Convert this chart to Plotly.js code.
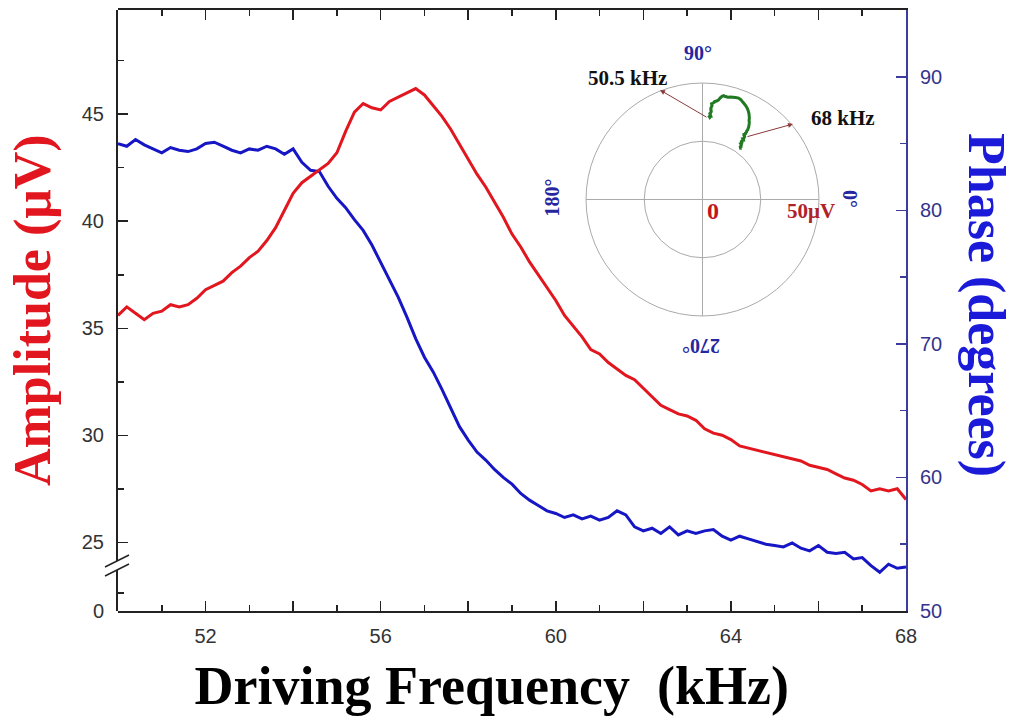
<!DOCTYPE html>
<html><head><meta charset="utf-8">
<script src="https://cdn.plot.ly/plotly-3.0.1.min.js"></script>
<style>html,body{margin:0;padding:0;background:#fff}#chart{width:1016px;height:721px}</style>
</head><body><div id="chart"></div><script>
// Driving frequency (kHz)
const frequency = [
 50.0,50.2,50.4,50.6,50.8,51.0,51.2,51.4,51.6,51.8,
 52.0,52.2,52.4,52.6,52.8,53.0,53.2,53.4,53.6,53.8,
 54.0,54.2,54.4,54.6,54.8,55.0,55.2,55.4,55.6,55.8,
 56.0,56.2,56.4,56.6,56.8,57.0,57.2,57.4,57.6,57.8,
 58.0,58.2,58.4,58.6,58.8,59.0,59.2,59.4,59.6,59.8,
 60.0,60.2,60.4,60.6,60.8,61.0,61.2,61.4,61.6,61.8,
 62.0,62.2,62.4,62.6,62.8,63.0,63.2,63.4,63.6,63.8,
 64.0,64.2,64.4,64.6,64.8,65.0,65.2,65.4,65.6,65.8,
 66.0,66.2,66.4,66.6,66.8,67.0,67.2,67.4,67.6,67.8,
 68.0];
// Amplitude (uV)
const amplitude = [
 35.6,36.0,35.7,35.4,35.7,35.8,36.1,36.0,36.1,36.4,
 36.8,37.0,37.2,37.6,37.9,38.3,38.6,39.1,39.7,40.5,
 41.3,41.8,42.1,42.4,42.7,43.2,44.2,45.1,45.5,45.3,
 45.2,45.6,45.8,46.0,46.2,45.9,45.4,44.9,44.3,43.6,
 42.9,42.2,41.6,40.9,40.2,39.4,38.8,38.1,37.5,36.9,
 36.3,35.6,35.1,34.6,34.0,33.8,33.4,33.1,32.8,32.6,
 32.2,31.8,31.4,31.2,31.0,30.9,30.7,30.3,30.1,30.0,
 29.8,29.5,29.4,29.3,29.2,29.1,29.0,28.9,28.8,28.6,
 28.5,28.4,28.2,28.0,27.9,27.7,27.4,27.5,27.4,27.5,
 27.0];
// Phase (degrees)
const phase = [
 85.0,84.8,85.3,84.9,84.6,84.3,84.7,84.5,84.4,84.6,
 85.0,85.1,84.8,84.5,84.3,84.6,84.5,84.8,84.6,84.2,
 84.6,83.6,83.0,82.9,81.8,80.9,80.2,79.3,78.5,77.4,
 76.1,74.8,73.5,72.0,70.4,69.0,67.9,66.6,65.2,63.8,
 62.8,61.9,61.3,60.6,60.0,59.5,58.8,58.3,57.9,57.5,
 57.3,57.0,57.2,56.9,57.1,56.8,57.0,57.5,57.2,56.3,
 56.0,56.2,55.8,56.3,55.7,56.0,55.8,56.0,56.1,55.6,
 55.3,55.6,55.4,55.2,55.0,54.9,54.8,55.1,54.7,54.5,
 54.9,54.4,54.3,54.4,53.9,54.0,53.4,52.9,53.5,53.2,
 53.3];
const xTickVals = [50,52,54,56,58,60,62,64,66,68];
const xTickText = ['','52','','56','','60','','64','','68'];
const ampTickVals = [25,30,35,40,45];
const ampLowTickVals = [0];
const phaseTickVals = [50,60,70,80,90];
const polarAngleTicks = [0,90,180,270];

const serif = 'Liberation Serif, Times New Roman, serif';
const sans = 'Liberation Sans, Arial, sans-serif';
const RED = '#e2161e', BLUE = '#1616c4', AXBLUE = '#3c3c9c';

const traces = [
  {type:'scatter', x:frequency, y:phase, xaxis:'x', yaxis:'y', mode:'lines',
   line:{color:BLUE, width:3}, hoverinfo:'skip'},
  {type:'scatter', x:frequency, y:amplitude, xaxis:'x', yaxis:'y2', mode:'lines',
   line:{color:RED, width:3}, hoverinfo:'skip'},
  // empty trace so the lower (broken) part of the amplitude axis is drawn
  {type:'scatter', x:[], y:[], xaxis:'x', yaxis:'y3', mode:'lines', hoverinfo:'skip'},
  {type:'scatterpolar', r:amplitude, theta:phase, subplot:'polar', mode:'lines',
   line:{color:'#1f7a22', width:3}, hoverinfo:'skip'}
];

const px = v => (v-118)/788, py = v => (611-v)/601;
const tick = {ticks:'inside', ticklen:10, tickwidth:1.5};
const lab = (x, y, text, size, color, angle) => ({xref:'paper', yref:'paper', x:px(x), y:py(y), text:text,
  textangle:angle||0, showarrow:false, xanchor:'center', yanchor:'middle', font:{family:serif, size:size, color:color}});

const layout = {
  width:1016, height:721,
  margin:{l:118, r:110, t:10, b:110, pad:0},
  paper_bgcolor:'#ffffff', plot_bgcolor:'rgba(0,0,0,0)',
  showlegend:false,
  font:{family:sans, size:20, color:'#333'},
  xaxis:Object.assign({range:[50,68], anchor:'y', tickmode:'array', tickvals:xTickVals, ticktext:xTickText,
    tickcolor:'#222', minor:{tickmode:'linear', tick0:51, dtick:2, ticks:'inside', ticklen:6, tickwidth:1.5, tickcolor:'#222'},
    showline:true, linecolor:'#222', linewidth:2, mirror:'ticks', showgrid:false, zeroline:false,
    ticklabelstandoff:6, tickfont:{family:sans, size:20, color:'#333'},
    title:{text:'<b>Driving Frequency \u00a0(kHz)\u00a0\u00a0\u00a0</b>', font:{family:serif, size:54, color:'#000'}, standoff:20}}, tick),
  yaxis:Object.assign({domain:[0,1], range:[50,95], side:'right', anchor:'x', tickmode:'array', tickvals:phaseTickVals,
    tickcolor:AXBLUE, minor:{tickmode:'linear', tick0:55, dtick:10, ticks:'inside', ticklen:6, tickwidth:1.5, tickcolor:AXBLUE},
    showline:true, linecolor:AXBLUE, linewidth:2, showgrid:false, zeroline:false,
    ticklabelstandoff:8, tickfont:{family:sans, size:20, color:'#34348c'}}, tick),
  yaxis2:Object.assign({domain:[0.083,1], range:[24.12,49.87], side:'left', anchor:'x', tickmode:'array', tickvals:ampTickVals,
    tickcolor:'#222', minor:{tickmode:'linear', tick0:27.5, dtick:5, ticks:'inside', ticklen:6, tickwidth:1.5, tickcolor:'#222'},
    showline:true, linecolor:'#222', linewidth:2, showgrid:false, zeroline:false,
    ticklabelstandoff:8, tickfont:{family:sans, size:20, color:'#333'}}, tick),
  yaxis3:Object.assign({domain:[0,0.068], range:[0,4.5], side:'left', anchor:'x', tickmode:'array', tickvals:ampLowTickVals,
    tickcolor:'#222', minor:{tickmode:'array', tickvals:[2], ticks:'inside', ticklen:6, tickwidth:1.5, tickcolor:'#222'},
    showline:true, linecolor:'#222', linewidth:2, showgrid:false, zeroline:false,
    ticklabelstandoff:8, tickfont:{family:sans, size:20, color:'#333'}}, tick),
  polar:{domain:{x:[0.5885,0.895], y:[0.4909,0.8785]}, bgcolor:'rgba(0,0,0,0)',
    radialaxis:{range:[0,50], tickmode:'array', tickvals:[25], showticklabels:false, ticks:'', showline:false,
      showgrid:true, gridcolor:'#aaaaaa', gridwidth:1},
    angularaxis:{rotation:0, direction:'counterclockwise', tickmode:'array', tickvals:polarAngleTicks,
      showticklabels:false, ticks:'', showgrid:true, gridcolor:'#aaaaaa', gridwidth:1,
      showline:true, linecolor:'#aaaaaa', linewidth:1}},
  shapes:[
    {type:'line', xref:'paper', yref:'paper', x0:px(105), y0:py(576), x1:px(129), y1:py(564), line:{color:'#222', width:1.5}},
    {type:'line', xref:'paper', yref:'paper', x0:px(105), y0:py(567), x1:px(129), y1:py(555), line:{color:'#222', width:1.5}}
  ],
  annotations:[
    lab(33, 310, '<b>Amplitude (\u03bcV)</b>', 52, RED, -90),
    lab(986, 305, '<b>Phase (degrees)</b>', 52, '#1a1ad8', 90),
    lab(698, 53, '<b>90\u00b0</b>', 20, '#2626a0'),
    lab(551.5, 198, '<b>180\u00b0</b>', 20, '#2626a0', -90),
    lab(850, 199, '<b>0\u00b0</b>', 20, '#2626a0', 90),
    lab(701, 346, '<b>270\u00b0</b>', 20, '#2626a0', 180),
    lab(712.5, 211, '<b>0</b>', 24, '#c0161e'),
    lab(811, 211, '<b>50\u03bcV</b>', 21, '#b0222a'),
    lab(627, 78, '<b>50.5 kHz</b>', 21, '#111'),
    lab(843, 118, '<b>68 kHz</b>', 21, '#111'),
    {xref:'paper', yref:'paper', x:px(660), y:py(90), ax:48, ay:28, text:'', showarrow:true,
     arrowhead:2, arrowsize:1, arrowwidth:1, arrowcolor:'#8a3a3a'},
    {xref:'paper', yref:'paper', x:px(793), y:py(124), ax:-47, ay:13, text:'', showarrow:true,
     arrowhead:2, arrowsize:1, arrowwidth:1, arrowcolor:'#8a3a3a'}
  ]
};

Plotly.newPlot('chart', traces, layout, {displayModeBar:false, staticPlot:true});
</script></body></html>
